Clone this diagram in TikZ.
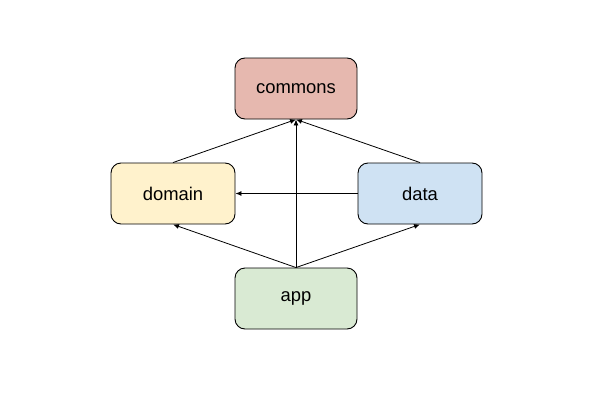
\documentclass[tikz,border=0pt]{standalone}
\usepackage{fontspec}
\setmainfont{Liberation Sans}
\usetikzlibrary{arrows.meta}
\definecolor{cRed}{HTML}{E6B8AF}
\definecolor{cYel}{HTML}{FFF2CC}
\definecolor{cBlue}{HTML}{CFE2F3}
\definecolor{cGreen}{HTML}{D9EAD3}
\begin{document}
\begin{tikzpicture}[x=1pt,y=-1pt,
  box/.style={draw=black, line width=0.9pt, rounded corners=10pt, minimum width=122pt, minimum height=61pt, inner sep=0pt, font=\fontsize{18.4}{21}\selectfont},
  conn/.style={draw=black, line width=0.8pt, -{Latex[length=6pt,width=5pt]}}]
\useasboundingbox (0,0) rectangle (609,404);
\node[box, fill=cRed] (commons) at (296,88.5) {commons};
\node[box, fill=cYel, minimum width=124pt] (domain) at (173,193.5) {domain};
\node[box, fill=cBlue, minimum width=124pt] (data) at (420,193.5) {data};
\node[box, fill=cGreen] (app) at (296,298.5) {app};
\draw[conn] (domain.north) -- (commons.south);
\draw[conn] (data.north) -- (commons.south);
\draw[conn] (app.north) -- (commons.south);
\draw[conn] (data.west) -- (domain.east);
\draw[conn] (app.north) -- (domain.south);
\draw[conn] (app.north) -- (data.south);
\end{tikzpicture}
\end{document}
